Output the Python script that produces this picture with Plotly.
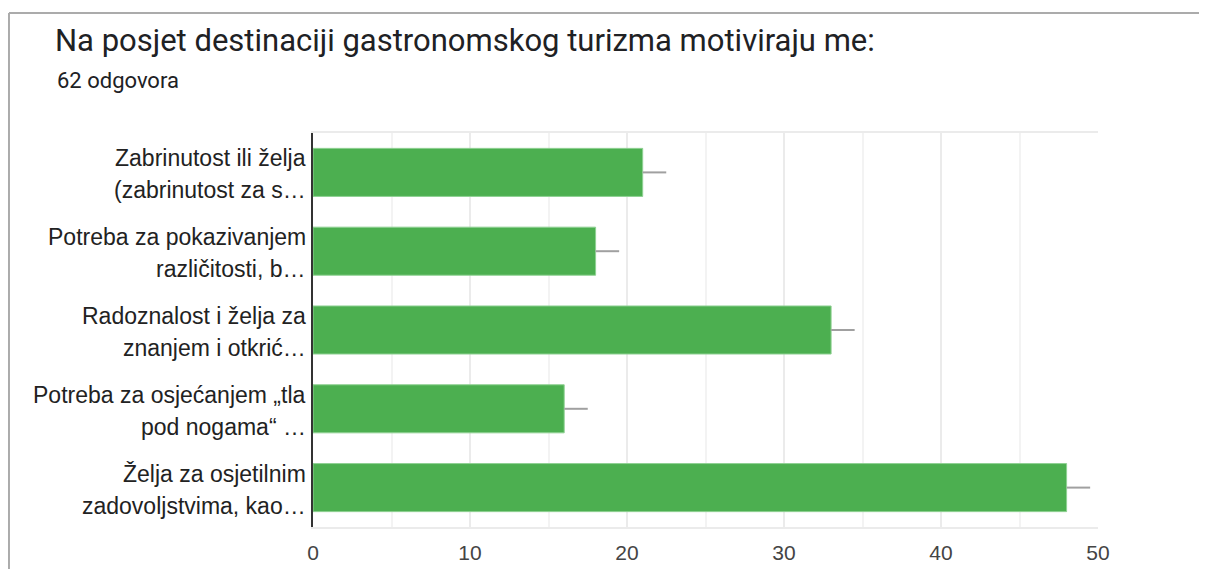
import plotly.graph_objects as go

title_text = "Na posjet destinaciji gastronomskog turizma motiviraju me:"
subtitle_text = "62 odgovora"

label_line1 = [
    "Zabrinutost ili želja",
    "Potreba za pokazivanjem",
    "Radoznalost i želja za",
    "Potreba za osjećanjem „tla",
    "Želja za osjetilnim",
]
label_line2 = [
    "(zabrinutost za s…",
    "različitosti, b…",
    "znanjem i otkrić…",
    "pod nogama“ …",
    "zadovoljstvima, kao…",
]
categories = [a + " " + b for a, b in zip(label_line1, label_line2)]
values = [21, 18, 33, 16, 48]
err_plus = [1.5, 1.5, 1.5, 1.5, 1.5]
err_minus = [0, 0, 0, 0, 0]
x_ticks = [0, 10, 20, 30, 40, 50]

fig = go.Figure()
fig.add_trace(go.Bar(
    y=categories, x=values, orientation="h",
    marker=dict(color="#4caf50", line=dict(color="#8fd193", width=1)),
    error_x=dict(type="data", symmetric=False, array=err_plus, arrayminus=err_minus,
                 color="#a0a0a0", thickness=2, width=0),
    hoverinfo="x+y",
))

label_font = dict(family="Liberation Sans, Arial", size=23, color="#222222")
annotations = []
for cat, l1, l2 in zip(categories, label_line1, label_line2):
    annotations.append(dict(text=l1, xref="paper", yref="y", x=0, y=cat, xanchor="right",
                            yanchor="middle", xshift=-5, yshift=14, showarrow=False,
                            font=label_font))
    annotations.append(dict(text=l2, xref="paper", yref="y", x=0, y=cat, xanchor="right",
                            yanchor="middle", xshift=-5, yshift=-18, showarrow=False,
                            font=label_font))
annotations.append(dict(text=subtitle_text, xref="paper", yref="paper", x=-0.3287, y=1.1345,
                        xanchor="left", yanchor="middle", showarrow=False,
                        font=dict(family="Roboto", size=22, color="#202124")))

shapes = [
    # card border
    dict(type="line", xref="paper", yref="paper", x0=-0.3873, x1=1.2, y0=1.3046, y1=1.3046,
         line=dict(color="#ababab", width=2)),
    dict(type="line", xref="paper", yref="paper", x0=-0.3873, x1=-0.3873, y0=-0.12, y1=1.3046,
         line=dict(color="#ababab", width=2)),
]

fig.update_layout(
    width=1199, height=561,
    margin=dict(l=305, r=109, t=125, b=42),
    paper_bgcolor="white", plot_bgcolor="white",
    showlegend=False,
    bargap=0.39,
    title=dict(text=title_text, xref="container", yref="container", x=47 / 1199, y=1 - 32 / 561,
               xanchor="left", yanchor="middle",
               font=dict(family="Roboto", size=31, color="#202124")),
    annotations=annotations,
    shapes=shapes,
    xaxis=dict(range=[0, 50], tickvals=x_ticks, showgrid=True, gridcolor="#ebebeb", gridwidth=2,
               minor=dict(dtick=5, showgrid=True, gridcolor="#f3f3f3", gridwidth=2),
               showline=True, linecolor="#ebebeb", linewidth=2, mirror=True,
               zeroline=False, ticks="", ticklabelstandoff=6, automargin=False,
               tickfont=dict(family="Liberation Sans, Arial", size=21, color="#444444")),
    yaxis=dict(autorange="reversed", showticklabels=False, showgrid=False, zeroline=False,
               showline=True, linecolor="#333333", linewidth=2, ticks="", automargin=False),
)

fig.write_html("out.html")
